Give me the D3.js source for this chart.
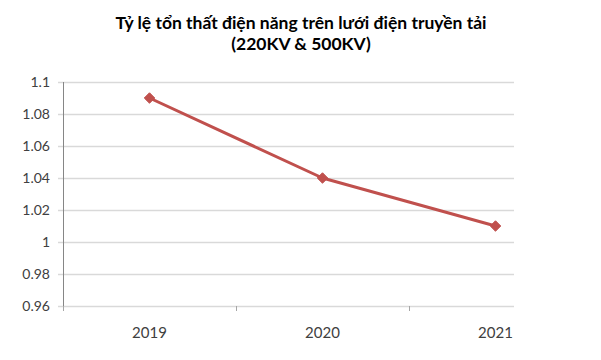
<!DOCTYPE html>
<html>
<head>
<meta charset="utf-8">
<script src="https://cdn.jsdelivr.net/npm/d3@7"></script>
<style>
  body { margin: 0; background: #fff; }
  text { font-family: Lato, "Open Sans", sans-serif; }
</style>
</head>
<body>
<div id="chart"></div>
<script>
var titleLines = ["Tỷ lệ tổn thất điện năng trên lưới điện truyền tải", "(220KV & 500KV)"];
var categories = ["2019", "2020", "2021"];
var lossRate = [1.09, 1.04, 1.01];
var yTicks = [0.96, 0.98, 1, 1.02, 1.04, 1.06, 1.08, 1.1];
var yTickLabels = ["0.96", "0.98", "1", "1.02", "1.04", "1.06", "1.08", "1.1"];

var width = 601,
    height = 360;

// plot area: the chart is cut off on the right, so the band scale runs past the gridlines
var plotLeft = 63, plotTop = 82, plotBottom = 306, gridRight = 514;

var svg = d3.select("#chart").append("svg")
    .attr("width", width)
    .attr("height", height);

var x = d3.scaleBand()
    .domain(categories)
    .range([plotLeft, plotLeft + 3 * 173]);

var y = d3.scaleLinear()
    .domain([0.96, 1.1])
    .range([plotBottom, plotTop]);

svg.selectAll(".title")
    .data(titleLines)
    .enter().append("text")
    .attr("class", "title")
    .attr("x", 301)
    .attr("y", function(d, i) { return 29 + i * 21; })
    .attr("text-anchor", "middle")
    .attr("font-size", 17.5)
    .attr("font-weight", "bold")
    .attr("fill", "#000")
    .text(function(d) { return d; });

// gridlines (with the little tick stub on the left)
svg.selectAll(".grid")
    .data(yTicks)
    .enter().append("line")
    .attr("class", "grid")
    .attr("x1", plotLeft - 5)
    .attr("x2", gridRight)
    .attr("y1", function(d) { return Math.round(y(d)) + 0.5; })
    .attr("y2", function(d) { return Math.round(y(d)) + 0.5; })
    .attr("stroke", "#d9d9d9")
    .attr("stroke-width", 1.5);

svg.selectAll(".ylabel")
    .data(yTicks)
    .enter().append("text")
    .attr("class", "ylabel")
    .attr("x", 50)
    .attr("y", function(d) { return y(d); })
    .attr("dy", "0.35em")
    .attr("text-anchor", "end")
    .attr("font-size", 14)
    .attr("fill", "#404040")
    .text(function(d, i) { return yTickLabels[i]; });

// y axis line
svg.append("line")
    .attr("x1", plotLeft + 0.5)
    .attr("x2", plotLeft + 0.5)
    .attr("y1", plotTop)
    .attr("y2", plotBottom + 5)
    .attr("stroke", "#868686");

// x axis tick marks at category boundaries
svg.selectAll(".xtick")
    .data(categories)
    .enter().append("line")
    .attr("class", "xtick")
    .attr("x1", function(d) { return Math.round(x(d)) + 0.5; })
    .attr("x2", function(d) { return Math.round(x(d)) + 0.5; })
    .attr("y1", plotBottom)
    .attr("y2", plotBottom + 5)
    .attr("stroke", "#a6a6a6");

svg.selectAll(".xlabel")
    .data(categories)
    .enter().append("text")
    .attr("class", "xlabel")
    .attr("x", function(d) { return x(d) + x.bandwidth() / 2; })
    .attr("y", 338)
    .attr("text-anchor", "middle")
    .attr("font-size", 15)
    .attr("fill", "#404040")
    .text(function(d) { return d; });

var points = categories.map(function(c, i) { return { cat: c, value: lossRate[i] }; });

var line = d3.line()
    .x(function(d) { return x(d.cat) + x.bandwidth() / 2; })
    .y(function(d) { return y(d.value); });

svg.append("path")
    .datum(points)
    .attr("d", line)
    .attr("fill", "none")
    .attr("stroke", "#c0504d")
    .attr("stroke-width", 3)
    .attr("stroke-linejoin", "round");

svg.selectAll(".marker")
    .data(points)
    .enter().append("path")
    .attr("class", "marker")
    .attr("d", d3.symbol().type(d3.symbolDiamond2).size(70))
    .attr("transform", function(d) {
      return "translate(" + (x(d.cat) + x.bandwidth() / 2) + "," + y(d.value) + ")";
    })
    .attr("fill", "#c0504d")
    .attr("stroke", "#c0504d")
    .attr("stroke-width", 1);
</script>
</body>
</html>
